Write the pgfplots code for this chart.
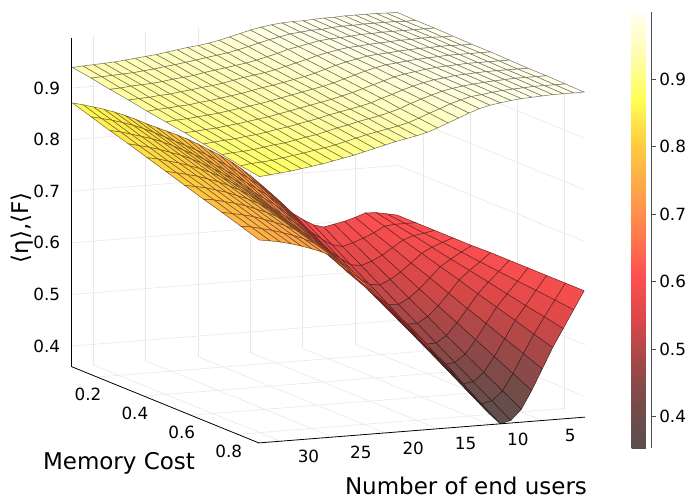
\documentclass[border=0pt]{standalone}
\usepackage{fontspec}
\setmainfont{DejaVu Sans}
\usepackage{pgfplots}
\pgfplotsset{compat=1.18,/pgf/number format/assume math mode=true}
\pgfplotsset{colormap={heatgr}{rgb255=(88,80,78) rgb255=(118,75,73) rgb255=(163,72,72) rgb255=(221,72,72) rgb255=(255,80,81) rgb255=(255,127,78) rgb255=(255,167,73) rgb255=(255,205,64) rgb255=(255,255,85) rgb255=(255,253,175) rgb255=(255,255,240)}}
\begin{document}
\begin{tikzpicture}
\begin{axis}[
  x={(-10.47pt,-0.828pt)}, y={(234.5pt,-95.5pt)}, z={(0pt,516pt)},
  xmin=0.9, xmax=32.07, ymin=0.092, ymax=0.89, zmin=0.36, zmax=0.997,
  clip=false,
  xtick={5,10,15,20,25,30}, ytick={0.2,0.4,0.6,0.8}, ztick={0.4,0.5,0.6,0.7,0.8,0.9},
  yticklabels={0.2,0.4,0.6,0.8}, zticklabels={0.4,0.5,0.6,0.7,0.8,0.9},
  grid=major, grid style={black!9, line width=0.6pt},
  axis line style={draw=none},
  major tick length=0pt,
  tick label style={font=\fontsize{16.8}{20}\selectfont},
  xticklabel style={anchor=center, xshift=28pt, yshift=-15pt},
  yticklabel style={anchor=center, xshift=-9pt, yshift=-17pt},
  zticklabel style={anchor=east, xshift=-8pt},
  colormap name=heatgr,
  point meta min=0.353, point meta max=0.999,
  colorbar,
  colorbar style={
    at={(parent axis.north east)}, anchor=north west, xshift=38pt,
    width=20pt, height=436pt,
    ytick={0.4,0.5,0.6,0.7,0.8,0.9},
    yticklabels={0.4,0.5,0.6,0.7,0.8,0.9},
    axis x line=none, axis y line*=right,
    y axis line style={draw=black!70, line width=0.8pt},
    yticklabel style={font=\fontsize{16.8}{20}\selectfont},
    tick align=outside, major tick length=4pt,
    ytick style={draw=black!70},
  },
]
\addplot3[surf, z buffer=sort, shader=faceted, faceted color=mapped color!45!black, line width=0.5pt] table {
u m z
1 0.092 0.604
1 0.172 0.604
1 0.252 0.604
1 0.331 0.604
1 0.411 0.604
1 0.491 0.605
1 0.571 0.605
1 0.651 0.605
1 0.730 0.605
1 0.810 0.605
1 0.890 0.605

2 0.092 0.608
2 0.172 0.604
2 0.252 0.600
2 0.331 0.597
2 0.411 0.593
2 0.491 0.589
2 0.571 0.585
2 0.651 0.581
2 0.730 0.578
2 0.810 0.574
2 0.890 0.570

3 0.092 0.612
3 0.172 0.604
3 0.252 0.597
3 0.331 0.589
3 0.411 0.581
3 0.491 0.574
3 0.571 0.566
3 0.651 0.558
3 0.730 0.550
3 0.810 0.543
3 0.890 0.535

4 0.092 0.613
4 0.172 0.602
4 0.252 0.590
4 0.331 0.579
4 0.411 0.568
4 0.491 0.557
4 0.571 0.545
4 0.651 0.534
4 0.730 0.523
4 0.810 0.511
4 0.890 0.500

5 0.092 0.606
5 0.172 0.591
5 0.252 0.577
5 0.331 0.562
5 0.411 0.548
5 0.491 0.533
5 0.571 0.518
5 0.651 0.504
5 0.730 0.489
5 0.810 0.475
5 0.890 0.460

6 0.092 0.600
6 0.172 0.582
6 0.252 0.564
6 0.331 0.546
6 0.411 0.528
6 0.491 0.510
6 0.571 0.492
6 0.651 0.474
6 0.730 0.456
6 0.810 0.438
6 0.890 0.420

7 0.092 0.596
7 0.172 0.575
7 0.252 0.554
7 0.331 0.533
7 0.411 0.512
7 0.491 0.491
7 0.571 0.469
7 0.651 0.448
7 0.730 0.427
7 0.810 0.406
7 0.890 0.385

8 0.092 0.592
8 0.172 0.569
8 0.252 0.547
8 0.331 0.524
8 0.411 0.501
8 0.491 0.479
8 0.571 0.456
8 0.651 0.433
8 0.730 0.410
8 0.810 0.388
8 0.890 0.365

9 0.092 0.598
9 0.172 0.574
9 0.252 0.550
9 0.331 0.527
9 0.411 0.503
9 0.491 0.479
9 0.571 0.455
9 0.651 0.431
9 0.730 0.408
9 0.810 0.384
9 0.890 0.360

10 0.092 0.610
10 0.172 0.587
10 0.252 0.564
10 0.331 0.541
10 0.411 0.518
10 0.491 0.495
10 0.571 0.472
10 0.651 0.449
10 0.730 0.426
10 0.810 0.403
10 0.890 0.380

11 0.092 0.624
11 0.172 0.602
11 0.252 0.580
11 0.331 0.558
11 0.411 0.536
11 0.491 0.515
11 0.571 0.493
11 0.651 0.471
11 0.730 0.449
11 0.810 0.427
11 0.890 0.405

12 0.092 0.645
12 0.172 0.624
12 0.252 0.602
12 0.331 0.581
12 0.411 0.559
12 0.491 0.538
12 0.571 0.516
12 0.651 0.495
12 0.730 0.473
12 0.810 0.452
12 0.890 0.430

13 0.092 0.665
13 0.172 0.644
13 0.252 0.623
13 0.331 0.602
13 0.411 0.581
13 0.491 0.560
13 0.571 0.539
13 0.651 0.518
13 0.730 0.497
13 0.810 0.476
13 0.890 0.455

14 0.092 0.684
14 0.172 0.664
14 0.252 0.643
14 0.331 0.623
14 0.411 0.602
14 0.491 0.582
14 0.571 0.562
14 0.651 0.541
14 0.730 0.521
14 0.810 0.500
14 0.890 0.480

15 0.092 0.703
15 0.172 0.683
15 0.252 0.662
15 0.331 0.642
15 0.411 0.622
15 0.491 0.602
15 0.571 0.581
15 0.651 0.561
15 0.730 0.541
15 0.810 0.520
15 0.890 0.500

16 0.092 0.720
16 0.172 0.701
16 0.252 0.681
16 0.331 0.662
16 0.411 0.642
16 0.491 0.623
16 0.571 0.603
16 0.651 0.584
16 0.730 0.564
16 0.810 0.545
16 0.890 0.525

17 0.092 0.735
17 0.172 0.716
17 0.252 0.698
17 0.331 0.679
17 0.411 0.660
17 0.491 0.642
17 0.571 0.623
17 0.651 0.604
17 0.730 0.585
17 0.810 0.567
17 0.890 0.548

18 0.092 0.748
18 0.172 0.730
18 0.252 0.712
18 0.331 0.695
18 0.411 0.677
18 0.491 0.659
18 0.571 0.641
18 0.651 0.623
18 0.730 0.606
18 0.810 0.588
18 0.890 0.570

19 0.092 0.760
19 0.172 0.743
19 0.252 0.726
19 0.331 0.709
19 0.411 0.692
19 0.491 0.675
19 0.571 0.658
19 0.651 0.641
19 0.730 0.624
19 0.810 0.607
19 0.890 0.590

20 0.092 0.772
20 0.172 0.756
20 0.252 0.740
20 0.331 0.723
20 0.411 0.707
20 0.491 0.691
20 0.571 0.675
20 0.651 0.659
20 0.730 0.642
20 0.810 0.626
20 0.890 0.610

21 0.092 0.783
21 0.172 0.768
21 0.252 0.753
21 0.331 0.738
21 0.411 0.723
21 0.491 0.708
21 0.571 0.692
21 0.651 0.677
21 0.730 0.662
21 0.810 0.647
21 0.890 0.632

22 0.092 0.793
22 0.172 0.779
22 0.252 0.765
22 0.331 0.752
22 0.411 0.738
22 0.491 0.724
22 0.571 0.710
22 0.651 0.696
22 0.730 0.683
22 0.810 0.669
22 0.890 0.655

23 0.092 0.802
23 0.172 0.789
23 0.252 0.777
23 0.331 0.764
23 0.411 0.752
23 0.491 0.739
23 0.571 0.726
23 0.651 0.714
23 0.730 0.701
23 0.810 0.689
23 0.890 0.676

24 0.092 0.811
24 0.172 0.799
24 0.252 0.788
24 0.331 0.776
24 0.411 0.764
24 0.491 0.753
24 0.571 0.741
24 0.651 0.729
24 0.730 0.717
24 0.810 0.706
24 0.890 0.694

25 0.092 0.820
25 0.172 0.809
25 0.252 0.798
25 0.331 0.787
25 0.411 0.776
25 0.491 0.765
25 0.571 0.754
25 0.651 0.743
25 0.730 0.732
25 0.810 0.721
25 0.890 0.710

26 0.092 0.830
26 0.172 0.819
26 0.252 0.808
26 0.331 0.797
26 0.411 0.786
26 0.491 0.775
26 0.571 0.764
26 0.651 0.753
26 0.730 0.742
26 0.810 0.731
26 0.890 0.720

27 0.092 0.839
27 0.172 0.828
27 0.252 0.817
27 0.331 0.806
27 0.411 0.795
27 0.491 0.784
27 0.571 0.772
27 0.651 0.761
27 0.730 0.750
27 0.810 0.739
27 0.890 0.728

28 0.092 0.847
28 0.172 0.836
28 0.252 0.825
28 0.331 0.813
28 0.411 0.802
28 0.491 0.791
28 0.571 0.780
28 0.651 0.769
28 0.730 0.757
28 0.810 0.746
28 0.890 0.735

29 0.092 0.854
29 0.172 0.843
29 0.252 0.831
29 0.331 0.820
29 0.411 0.809
29 0.491 0.798
29 0.571 0.786
29 0.651 0.775
29 0.730 0.764
29 0.810 0.752
29 0.890 0.741

30 0.092 0.860
30 0.172 0.849
30 0.252 0.837
30 0.331 0.826
30 0.411 0.814
30 0.491 0.803
30 0.571 0.792
30 0.651 0.780
30 0.730 0.769
30 0.810 0.757
30 0.890 0.746

31 0.092 0.866
31 0.172 0.854
31 0.252 0.843
31 0.331 0.831
31 0.411 0.820
31 0.491 0.808
31 0.571 0.796
31 0.651 0.785
31 0.730 0.773
31 0.810 0.762
31 0.890 0.750

32 0.092 0.871
32 0.172 0.859
32 0.252 0.847
32 0.331 0.836
32 0.411 0.824
32 0.491 0.812
32 0.571 0.800
32 0.651 0.788
32 0.730 0.777
32 0.810 0.765
32 0.890 0.753
};
\addplot3[surf, z buffer=sort, shader=faceted, faceted color=mapped color!45!black, line width=0.5pt] table {
u m z
1 0.092 0.997
1 0.172 0.996
1 0.252 0.996
1 0.331 0.995
1 0.411 0.994
1 0.491 0.994
1 0.571 0.993
1 0.651 0.992
1 0.730 0.992
1 0.810 0.991
1 0.890 0.990

2 0.092 0.997
2 0.172 0.996
2 0.252 0.996
2 0.331 0.995
2 0.411 0.994
2 0.491 0.994
2 0.571 0.993
2 0.651 0.992
2 0.730 0.992
2 0.810 0.991
2 0.890 0.990

3 0.092 0.998
3 0.172 0.997
3 0.252 0.996
3 0.331 0.996
3 0.411 0.995
3 0.491 0.994
3 0.571 0.993
3 0.651 0.992
3 0.730 0.992
3 0.810 0.991
3 0.890 0.990

4 0.092 0.998
4 0.172 0.997
4 0.252 0.996
4 0.331 0.996
4 0.411 0.995
4 0.491 0.994
4 0.571 0.993
4 0.651 0.992
4 0.730 0.992
4 0.810 0.991
4 0.890 0.990

5 0.092 0.998
5 0.172 0.997
5 0.252 0.996
5 0.331 0.995
5 0.411 0.994
5 0.491 0.994
5 0.571 0.993
5 0.651 0.992
5 0.730 0.991
5 0.810 0.990
5 0.890 0.989

6 0.092 0.998
6 0.172 0.997
6 0.252 0.996
6 0.331 0.995
6 0.411 0.994
6 0.491 0.993
6 0.571 0.992
6 0.651 0.991
6 0.730 0.990
6 0.810 0.989
6 0.890 0.988

7 0.092 0.997
7 0.172 0.996
7 0.252 0.995
7 0.331 0.994
7 0.411 0.993
7 0.491 0.992
7 0.571 0.991
7 0.651 0.990
7 0.730 0.989
7 0.810 0.988
7 0.890 0.987

8 0.092 0.997
8 0.172 0.996
8 0.252 0.995
8 0.331 0.993
8 0.411 0.992
8 0.491 0.991
8 0.571 0.990
8 0.651 0.989
8 0.730 0.987
8 0.810 0.986
8 0.890 0.985

9 0.092 0.996
9 0.172 0.995
9 0.252 0.993
9 0.331 0.992
9 0.411 0.990
9 0.491 0.989
9 0.571 0.988
9 0.651 0.986
9 0.730 0.985
9 0.810 0.983
9 0.890 0.982

10 0.092 0.995
10 0.172 0.993
10 0.252 0.992
10 0.331 0.990
10 0.411 0.989
10 0.491 0.987
10 0.571 0.985
10 0.651 0.984
10 0.730 0.982
10 0.810 0.981
10 0.890 0.979

11 0.092 0.995
11 0.172 0.993
11 0.252 0.991
11 0.331 0.989
11 0.411 0.987
11 0.491 0.985
11 0.571 0.982
11 0.651 0.980
11 0.730 0.978
11 0.810 0.976
11 0.890 0.974

12 0.092 0.994
12 0.172 0.991
12 0.252 0.989
12 0.331 0.986
12 0.411 0.983
12 0.491 0.981
12 0.571 0.978
12 0.651 0.975
12 0.730 0.972
12 0.810 0.970
12 0.890 0.967

13 0.092 0.992
13 0.172 0.989
13 0.252 0.985
13 0.331 0.982
13 0.411 0.979
13 0.491 0.976
13 0.571 0.972
13 0.651 0.969
13 0.730 0.966
13 0.810 0.962
13 0.890 0.959

14 0.092 0.989
14 0.172 0.985
14 0.252 0.981
14 0.331 0.978
14 0.411 0.974
14 0.491 0.970
14 0.571 0.966
14 0.651 0.962
14 0.730 0.959
14 0.810 0.955
14 0.890 0.951

15 0.092 0.985
15 0.172 0.981
15 0.252 0.977
15 0.331 0.972
15 0.411 0.968
15 0.491 0.964
15 0.571 0.960
15 0.651 0.956
15 0.730 0.951
15 0.810 0.947
15 0.890 0.943

16 0.092 0.980
16 0.172 0.976
16 0.252 0.971
16 0.331 0.967
16 0.411 0.962
16 0.491 0.958
16 0.571 0.954
16 0.651 0.949
16 0.730 0.945
16 0.810 0.940
16 0.890 0.936

17 0.092 0.975
17 0.172 0.971
17 0.252 0.966
17 0.331 0.962
17 0.411 0.957
17 0.491 0.953
17 0.571 0.949
17 0.651 0.944
17 0.730 0.940
17 0.810 0.935
17 0.890 0.931

18 0.092 0.970
18 0.172 0.966
18 0.252 0.961
18 0.331 0.957
18 0.411 0.953
18 0.491 0.949
18 0.571 0.944
18 0.651 0.940
18 0.730 0.936
18 0.810 0.931
18 0.890 0.927

19 0.092 0.966
19 0.172 0.962
19 0.252 0.957
19 0.331 0.953
19 0.411 0.949
19 0.491 0.945
19 0.571 0.940
19 0.651 0.936
19 0.730 0.932
19 0.810 0.927
19 0.890 0.923

20 0.092 0.963
20 0.172 0.959
20 0.252 0.954
20 0.331 0.950
20 0.411 0.945
20 0.491 0.941
20 0.571 0.936
20 0.651 0.932
20 0.730 0.927
20 0.810 0.923
20 0.890 0.918

21 0.092 0.961
21 0.172 0.956
21 0.252 0.951
21 0.331 0.947
21 0.411 0.942
21 0.491 0.937
21 0.571 0.932
21 0.651 0.927
21 0.730 0.923
21 0.810 0.918
21 0.890 0.913

22 0.092 0.958
22 0.172 0.953
22 0.252 0.948
22 0.331 0.943
22 0.411 0.938
22 0.491 0.933
22 0.571 0.928
22 0.651 0.923
22 0.730 0.918
22 0.810 0.913
22 0.890 0.908

23 0.092 0.955
23 0.172 0.950
23 0.252 0.945
23 0.331 0.939
23 0.411 0.934
23 0.491 0.929
23 0.571 0.924
23 0.651 0.919
23 0.730 0.913
23 0.810 0.908
23 0.890 0.903

24 0.092 0.952
24 0.172 0.947
24 0.252 0.941
24 0.331 0.936
24 0.411 0.931
24 0.491 0.926
24 0.571 0.920
24 0.651 0.915
24 0.730 0.910
24 0.810 0.904
24 0.890 0.899

25 0.092 0.950
25 0.172 0.945
25 0.252 0.939
25 0.331 0.934
25 0.411 0.928
25 0.491 0.923
25 0.571 0.917
25 0.651 0.912
25 0.730 0.906
25 0.810 0.901
25 0.890 0.895

26 0.092 0.948
26 0.172 0.942
26 0.252 0.937
26 0.331 0.931
26 0.411 0.925
26 0.491 0.920
26 0.571 0.914
26 0.651 0.908
26 0.730 0.902
26 0.810 0.897
26 0.890 0.891

27 0.092 0.946
27 0.172 0.940
27 0.252 0.934
27 0.331 0.929
27 0.411 0.923
27 0.491 0.917
27 0.571 0.911
27 0.651 0.905
27 0.730 0.900
27 0.810 0.894
27 0.890 0.888

28 0.092 0.944
28 0.172 0.938
28 0.252 0.932
28 0.331 0.926
28 0.411 0.920
28 0.491 0.915
28 0.571 0.909
28 0.651 0.903
28 0.730 0.897
28 0.810 0.891
28 0.890 0.885

29 0.092 0.943
29 0.172 0.937
29 0.252 0.931
29 0.331 0.925
29 0.411 0.919
29 0.491 0.913
29 0.571 0.906
29 0.651 0.900
29 0.730 0.894
29 0.810 0.888
29 0.890 0.882

30 0.092 0.942
30 0.172 0.936
30 0.252 0.930
30 0.331 0.923
30 0.411 0.917
30 0.491 0.911
30 0.571 0.905
30 0.651 0.899
30 0.730 0.892
30 0.810 0.886
30 0.890 0.880

31 0.092 0.941
31 0.172 0.935
31 0.252 0.928
31 0.331 0.922
31 0.411 0.916
31 0.491 0.910
31 0.571 0.903
31 0.651 0.897
31 0.730 0.891
31 0.810 0.885
31 0.890 0.878

32 0.092 0.940
32 0.172 0.934
32 0.252 0.927
32 0.331 0.921
32 0.411 0.914
32 0.491 0.908
32 0.571 0.902
32 0.651 0.895
32 0.730 0.889
32 0.810 0.882
32 0.890 0.876
};
\draw[black, line width=0.8pt] (axis cs:32.07,0.092,0.36) -- (axis cs:32.07,0.092,0.997);
\draw[black, line width=0.8pt] (axis cs:32.07,0.092,0.36) -- (axis cs:32.07,0.89,0.36) -- (axis cs:0.9,0.89,0.36);
\coordinate (O) at (axis cs:32.07,0.092,0.36);
\end{axis}
\node[font=\fontsize{23}{27}\selectfont] at ([shift={(394.3pt,-119pt)}]O) {Number of end users};
\node[font=\fontsize{23}{27}\selectfont] at ([shift={(47.3pt,-97pt)}]O) {Memory Cost};
\node[font=\fontsize{23}{27}\selectfont, rotate=90] at ([shift={(-49.7pt,138.7pt)}]O) {⟨η⟩,⟨F⟩};
\pgfresetboundingbox
\path[use as bounding box] ([shift={(-71.7pt,-133.3pt)}]O) rectangle ([shift={(628.3pt,366.7pt)}]O);
\end{tikzpicture}
\end{document}
